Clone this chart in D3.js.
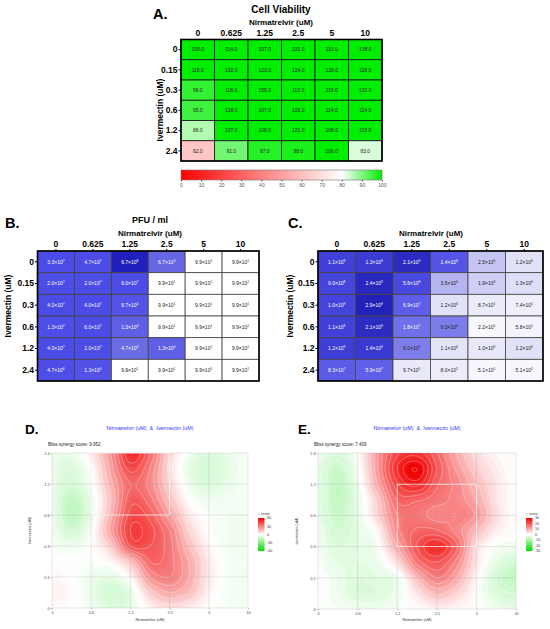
<!DOCTYPE html>
<html lang="en">
<head>
<meta charset="UTF-8">
<title>Nirmatrelvir and Ivermectin</title>
<script src="https://d3js.org/d3.v7.min.js"></script>
<style>
  body { margin: 0; background: #fff; }
  svg { display: block; font-family: "Liberation Sans", Arial, sans-serif; }
</style>
</head>
<body>
<svg id="chart" width="550" height="629"></svg>
<script>
// ---- data ----
const nirmaLabels = ["0", "0.625", "1.25", "2.5", "5", "10"];
const iverLabels = ["0", "0.15", "0.3", "0.6", "1.2", "2.4"];

const viability = [
  [100, 114, 107, 131, 110, 108],
  [115, 132, 123, 124, 128, 118],
  [96, 118, 159, 112, 119, 132],
  [95, 128, 107, 105, 114, 114],
  [86, 107, 108, 121, 108, 113],
  [62, 91, 97, 98, 106, 83]
];
const viabilityTicks = [0, 10, 20, 30, 40, 50, 60, 70, 80, 90, 100];

const pfuB = [
  [3.3e7, 4.7e7, 6.7e8, 6.7e3, 9.9e1, 9.9e1],
  [2.0e7, 2.0e7, 6.0e7, 9.9e1, 9.9e1, 9.9e1],
  [4.0e7, 4.0e7, 6.7e4, 9.9e1, 9.9e1, 9.9e1],
  [1.3e7, 6.0e7, 1.3e4, 9.9e1, 9.9e1, 9.9e1],
  [4.0e7, 2.0e7, 4.7e3, 1.3e4, 9.9e1, 9.9e1],
  [4.7e6, 1.3e5, 9.9e1, 9.9e1, 9.9e1, 9.9e1]
];
const pfuC = [
  [1.1e9, 1.3e9, 2.1e9, 1.4e8, 2.5e6, 1.2e6],
  [9.0e8, 2.4e9, 5.6e8, 3.6e6, 1.9e6, 1.3e6],
  [1.0e9, 2.9e9, 6.9e7, 1.2e6, 8.7e5, 7.4e5],
  [1.1e9, 2.1e9, 1.8e7, 9.3e6, 2.2e5, 5.8e5],
  [1.2e9, 1.4e9, 9.0e6, 1.1e6, 1.0e6, 1.2e6],
  [8.3e7, 5.9e7, 9.7e5, 8.0e5, 5.1e5, 5.1e5]
];

// synergy surfaces, read at half steps; rows from Ivermectin 2.4 (top) down to 0
const synX = ["0", "0.6", "1.2", "2.5", "5", "10"];
const synY = ["2.4", "1.2", "0.6", "0.3", "0.1", "0"];
const blissD = [
  [-4, -5, 5, 25, 50, 35, 10, -3, -8, -5, -2],
  [-5, -8, 0, 22, 42, 30, 8, -6, -10, -6, -2],
  [-5, -10, -2, 18, 35, 28, 10, -4, -8, -5, -2],
  [-5, -14, -5, 15, 38, 32, 15, 0, -4, -3, -2],
  [-5, -15, -5, 18, 42, 38, 22, 5, -1, -3, -3],
  [-4, -10, -2, 22, 45, 42, 30, 10, 0, -3, -3],
  [-2, -4, 0, 12, 40, 40, 32, 15, 2, -3, -3],
  [0, 0, -1, 2, 15, 35, 32, 20, 5, -2, -3],
  [2, 0, -4, -6, 2, 25, 30, 20, 5, -2, -3],
  [3, 1, -5, -10, -6, 12, 20, 15, 3, -2, -2],
  [2, 0, -3, -8, -6, 3, 8, 5, 0, -2, -2]
];
const blissE = [
  [-2, -4, 0, 12, 22, 24, 18, 10, 4, 1, 0],
  [-3, -6, -1, 12, 25, 30, 20, 12, 6, 2, 0],
  [-3, -7, -2, 10, 22, 26, 18, 14, 8, 3, 0],
  [-3, -7, -3, 6, 18, 18, 16, 14, 10, 3, 0],
  [-3, -6, -3, 5, 15, 16, 14, 15, 12, 4, 0],
  [-2, -5, -3, 1, 14, 18, 18, 14, 8, 2, 0],
  [-2, -4, -3, -1, 10, 20, 25, 18, 4, -1, -2],
  [-1, -3, -3, -2, 4, 16, 20, 14, 3, -3, -5],
  [0, -2, -4, -3, -2, 8, 15, 10, 1, -5, -7],
  [0, -2, -4, -4, -2, 3, 8, 5, 0, -4, -5],
  [0, -1, -2, -2, -1, 0, 2, 1, 0, -2, -3]
];
const scoreD = "9.952";
const scoreE = "7.409";
const legendD = [60, 30, 0, -30, -60];
const legendE = [30, 20, 10, 0, -10, -20, -30];
const boxD = { x: ["0.6", "2.5"], y: ["2.4", "0.6"] };
const boxE = { x: ["1.2", "5"], y: ["1.2", "0.3"] };

const svg = d3.select("#chart");
const defs = svg.append("defs");

function label(x, y, txt, size, opts = {}) {
  return svg.append("text")
    .attr("x", x).attr("y", y)
    .attr("font-size", size)
    .attr("font-weight", opts.bold ? "bold" : null)
    .attr("text-anchor", opts.anchor || "start")
    .attr("fill", opts.fill || "#000")
    .attr("transform", opts.rotate ? `rotate(-90,${x},${y})` : null)
    .style("white-space", "pre")
    .text(txt);
}

function sci(t, v) {
  const e = Math.floor(Math.log10(v) + 1e-9);
  const m = (v / Math.pow(10, e)).toFixed(1);
  t.text(m + "×10");
  t.append("tspan").attr("font-size", 3.3).attr("dy", -2).text(e);
}

// ---- heatmap panels ----
function heatmap(o) {
  const x = d3.scaleBand().domain(nirmaLabels).range([o.x0, o.x1]);
  const y = d3.scaleBand().domain(iverLabels).range([o.y0, o.y1]);
  const g = svg.append("g");

  iverLabels.forEach((r, i) => nirmaLabels.forEach((c, j) => {
    const v = o.values[i][j];
    const fill = o.color(v);
    g.append("rect")
      .attr("x", x(c)).attr("y", y(r))
      .attr("width", x.bandwidth()).attr("height", y.bandwidth())
      .attr("fill", fill)
      .attr("stroke", o.cellStroke).attr("stroke-width", 0.8);
    const t = g.append("text")
      .attr("x", x(c) + x.bandwidth() / 2)
      .attr("y", y(r) + y.bandwidth() / 2 + 1.8)
      .attr("text-anchor", "middle")
      .attr("font-size", 5)
      .attr("fill", o.light && d3.lab(fill).l < 55 ? "#fff" : "#222");
    if (o.sci) sci(t, v); else t.text(v.toFixed(1));
  }));

  g.append("rect")
    .attr("x", o.x0).attr("y", o.y0)
    .attr("width", o.x1 - o.x0).attr("height", o.y1 - o.y0)
    .attr("fill", "none").attr("stroke", "#000").attr("stroke-width", 1.6);

  const top = g.append("g").attr("transform", `translate(0,${o.y0})`)
    .call(d3.axisTop(x).tickSize(o.topTick).tickPadding(o.topPad));
  top.select(".domain").remove();
  top.selectAll("text").attr("font-size", 8.5).attr("font-weight", "bold")
    .attr("font-family", "Liberation Sans, Arial, sans-serif");

  const left = g.append("g").attr("transform", `translate(${o.x0},0)`)
    .call(d3.axisLeft(y).tickSize(2.5).tickPadding(1));
  left.select(".domain").remove();
  left.selectAll("text").attr("font-size", 8.5).attr("font-weight", "bold")
    .attr("font-family", "Liberation Sans, Arial, sans-serif");
}

// A: cell viability
const vColor = d3.scaleLinear().domain([0, 80, 100])
  .range(["#ff0000", "#ffffff", "#00ee00"]).clamp(true);
heatmap({ x0: 181, x1: 382, y0: 39.5, y1: 161, values: viability, color: vColor,
  cellStroke: "#111", sci: false, light: false, topTick: 0, topPad: 3.5 });
label(153, 18.5, "A.", 14.5, { bold: true });
label(281, 13, "Cell Viability", 10, { bold: true, anchor: "middle" });
label(281, 24.5, "Nirmatrelvir (uM)", 8, { bold: true, anchor: "middle" });
label(163, 110, "Ivermectin (uM)", 8.5, { bold: true, anchor: "middle", rotate: true });

// colour bar
const cb = d3.scaleLinear().domain([0, 100]).range([181, 382]);
const grad = defs.append("linearGradient").attr("id", "vgrad");
viabilityTicks.forEach(t => grad.append("stop")
  .attr("offset", t + "%").attr("stop-color", vColor(t)));
svg.append("rect").attr("x", 181).attr("y", 170).attr("width", 201).attr("height", 10)
  .attr("fill", "url(#vgrad)").attr("stroke", "#777").attr("stroke-width", 0.6);
const cbAxis = svg.append("g").attr("transform", "translate(0,180)")
  .call(d3.axisBottom(cb).tickValues(viabilityTicks).tickSize(1.5).tickPadding(2));
cbAxis.select(".domain").remove();
cbAxis.selectAll("line").attr("stroke", "#555");
cbAxis.selectAll("text").attr("font-size", 5).attr("fill", "#555")
  .attr("font-family", "Liberation Sans, Arial, sans-serif");

// B: PFU / ml
const bScale = d3.scaleLinear().domain([2, 3.6, 4.5, 8, 8.9])
  .range(["#ffffff", "#6e6ee2", "#5454e8", "#4a4ae6", "#1c1cb8"]).clamp(true);
heatmap({ x0: 37.5, x1: 259, y0: 251, y1: 381, values: pfuB,
  color: v => bScale(Math.log10(v)), cellStroke: "#444", sci: true, light: true,
  topTick: 2, topPad: 2.5 });
label(5, 228, "B.", 14.5, { bold: true });
label(150, 223, "PFU / ml", 9, { bold: true, anchor: "middle" });
label(150, 236, "Nirmatrelvir (uM)", 8, { bold: true, anchor: "middle" });
label(10.5, 306, "Ivermectin (uM)", 8.5, { bold: true, anchor: "middle", rotate: true });

// C
const cScale = d3.scaleLinear().domain([5.7, 6.0, 6.5, 7.0, 8.0, 9.0, 9.5])
  .range(["#f7f7fd", "#e8e8f9", "#bcbcf1", "#7878ea", "#5858e6", "#4444dc", "#1f1fb5"]).clamp(true);
heatmap({ x0: 318, x1: 543, y0: 251, y1: 381, values: pfuC,
  color: v => cScale(Math.log10(v)), cellStroke: "#444", sci: true, light: true,
  topTick: 2, topPad: 2.5 });
label(288, 228, "C.", 14.5, { bold: true });
label(431, 236, "Nirmatrelvir (uM)", 8, { bold: true, anchor: "middle" });
label(293, 306, "Ivermectin (uM)", 8.5, { bold: true, anchor: "middle", rotate: true });

// ---- synergy surfaces ----
function cr(p0, p1, p2, p3, t) {
  return 0.5 * (2 * p1 + (-p0 + p2) * t + (2 * p0 - 5 * p1 + 4 * p2 - p3) * t * t
    + (-p0 + 3 * p1 - 3 * p2 + p3) * t * t * t);
}
function upsample(grid, k) {
  const n = grid.length, m = grid[0].length;
  const N = (n - 1) * k + 1, M = (m - 1) * k + 1;
  const at = (r, c) => grid[Math.max(0, Math.min(n - 1, r))][Math.max(0, Math.min(m - 1, c))];
  const out = new Array(N * M);
  for (let i = 0; i < N; i++) {
    const u = i / k, r = Math.min(Math.floor(u), n - 2), tr = u - r;
    for (let j = 0; j < M; j++) {
      const v = j / k, c = Math.min(Math.floor(v), m - 2), tc = v - c;
      const col = [-1, 0, 1, 2].map(d =>
        cr(at(r + d, c - 1), at(r + d, c), at(r + d, c + 1), at(r + d, c + 2), tc));
      out[i * M + j] = cr(col[0], col[1], col[2], col[3], tr);
    }
  }
  return { values: out, N, M };
}

function synergy(o) {
  const up = upsample(o.grid, 8);
  const color = d3.scaleLinear().domain([-o.max, 0, o.max])
    .range(["#00dd00", "#ffffff", "#f00000"]).clamp(true);
  const sx = d3.scaleLinear().domain([0.5, up.M - 0.5]).range([o.x0, o.x1]);
  const sy = d3.scaleLinear().domain([0.5, up.N - 0.5]).range([o.y0, o.y1]);
  const path = d3.geoPath(d3.geoTransform({
    point(px, py) { this.stream.point(sx(px), sy(py)); }
  }));
  const xp = d3.scalePoint().domain(synX).range([o.x0, o.x1]);
  const yp = d3.scalePoint().domain(synY).range([o.y0, o.y1]);

  defs.append("clipPath").attr("id", o.id + "clip").append("rect")
    .attr("x", o.x0).attr("y", o.y0).attr("width", o.x1 - o.x0).attr("height", o.y1 - o.y0);
  const g = svg.append("g").attr("clip-path", `url(#${o.id}clip)`);

  const bands = d3.contours().size([up.M, up.N])
    .thresholds(d3.range(-o.max, o.max + 0.01, 1))(up.values);
  g.selectAll("path.band").data(bands).join("path")
    .attr("class", "band")
    .attr("d", path)
    .attr("fill", d => color(d.value + 0.5))
    .attr("stroke", d => color(d.value + 0.5))
    .attr("stroke-width", 0.3);

  const lines = d3.contours().size([up.M, up.N])
    .thresholds(d3.range(-o.max, o.max + 0.01, o.step).filter(t => Math.abs(t) > 0.01))(up.values);
  g.selectAll("path.iso").data(lines).join("path")
    .attr("class", "iso")
    .attr("d", path)
    .attr("fill", "none")
    .attr("stroke", "#fff")
    .attr("stroke-opacity", 0.6)
    .attr("stroke-width", 0.5);

  // grid lines
  const grid = svg.append("g").attr("stroke", "#999").attr("stroke-opacity", 0.45).attr("stroke-width", 0.5);
  synX.forEach(v => grid.append("line").attr("x1", xp(v)).attr("x2", xp(v)).attr("y1", o.y0).attr("y2", o.y1));
  synY.forEach(v => grid.append("line").attr("y1", yp(v)).attr("y2", yp(v)).attr("x1", o.x0).attr("x2", o.x1));

  // highlighted region
  svg.append("rect")
    .attr("x", xp(o.box.x[0])).attr("y", yp(o.box.y[0]))
    .attr("width", xp(o.box.x[1]) - xp(o.box.x[0]))
    .attr("height", yp(o.box.y[1]) - yp(o.box.y[0]))
    .attr("fill", "none").attr("stroke", "#fff").attr("stroke-opacity", 0.85).attr("stroke-width", 0.8);

  const ax = svg.append("g").attr("transform", `translate(0,${o.y1})`)
    .call(d3.axisBottom(xp).tickSize(1.5).tickPadding(1.5));
  const ay = svg.append("g").attr("transform", `translate(${o.x0},0)`)
    .call(d3.axisLeft(yp).tickSize(1.5).tickPadding(1));
  [ax, ay].forEach(a => {
    a.select(".domain").remove();
    a.selectAll("line").attr("stroke", "#666").attr("stroke-width", 0.4);
    a.selectAll("text").attr("font-size", 3.8).attr("fill", "#444")
      .attr("font-family", "Liberation Sans, Arial, sans-serif");
  });

  const cx = (o.x0 + o.x1) / 2;
  label(o.labelX, 434, o.letter, 13.5, { bold: true });
  label(cx, 430, "Nirmatrelvir (uM)  &  Ivermectin (uM)", 5.4, { anchor: "middle", fill: "#3434ee" });
  label(o.x0 - 4, 446, "Bliss synergy score: " + o.score, 4.5, { fill: "#222" });
  label(cx, 621, "Nirmatrelvir (uM)", 3.9, { anchor: "middle", fill: "#333" });
  label(o.yTitleX, (o.y0 + o.y1) / 2, "Ivermectin (uM)", 3.9, { anchor: "middle", fill: "#333", rotate: true });

  // legend
  const lg = defs.append("linearGradient").attr("id", o.id + "lg")
    .attr("x1", 0).attr("x2", 0).attr("y1", 0).attr("y2", 1);
  [0, 0.25, 0.5, 0.75, 1].forEach(f => lg.append("stop")
    .attr("offset", f).attr("stop-color", color(o.max - f * 2 * o.max)));
  const ly = d3.scaleLinear().domain([o.max, -o.max]).range([518, 551]);
  svg.append("rect").attr("x", o.legX).attr("y", 518).attr("width", 6.5).attr("height", 33)
    .attr("fill", `url(#${o.id}lg)`);
  svg.append("line").attr("x1", o.legX).attr("x2", o.legX + 2).attr("y1", 514).attr("y2", 514)
    .attr("stroke", "#555").attr("stroke-width", 0.4);
  label(o.legX + 3, 515, "score", 3.6, { fill: "#333" });
  o.legend.forEach(t => label(o.legX + 9, ly(t) + 1.3, String(t), 3.6, { fill: "#333" }));
}

synergy({ id: "d", letter: "D.", labelX: 25, x0: 52, x1: 248, y0: 453, y1: 608,
  grid: blissD, max: 60, step: 5, score: scoreD, box: boxD, legend: legendD,
  legX: 258, yTitleX: 31 });
synergy({ id: "e", letter: "E.", labelX: 298, x0: 318, x1: 516, y0: 453, y1: 609,
  grid: blissE, max: 30, step: 2.5, score: scoreE, box: boxE, legend: legendE,
  legX: 526, yTitleX: 298 });
</script>
</body>
</html>
